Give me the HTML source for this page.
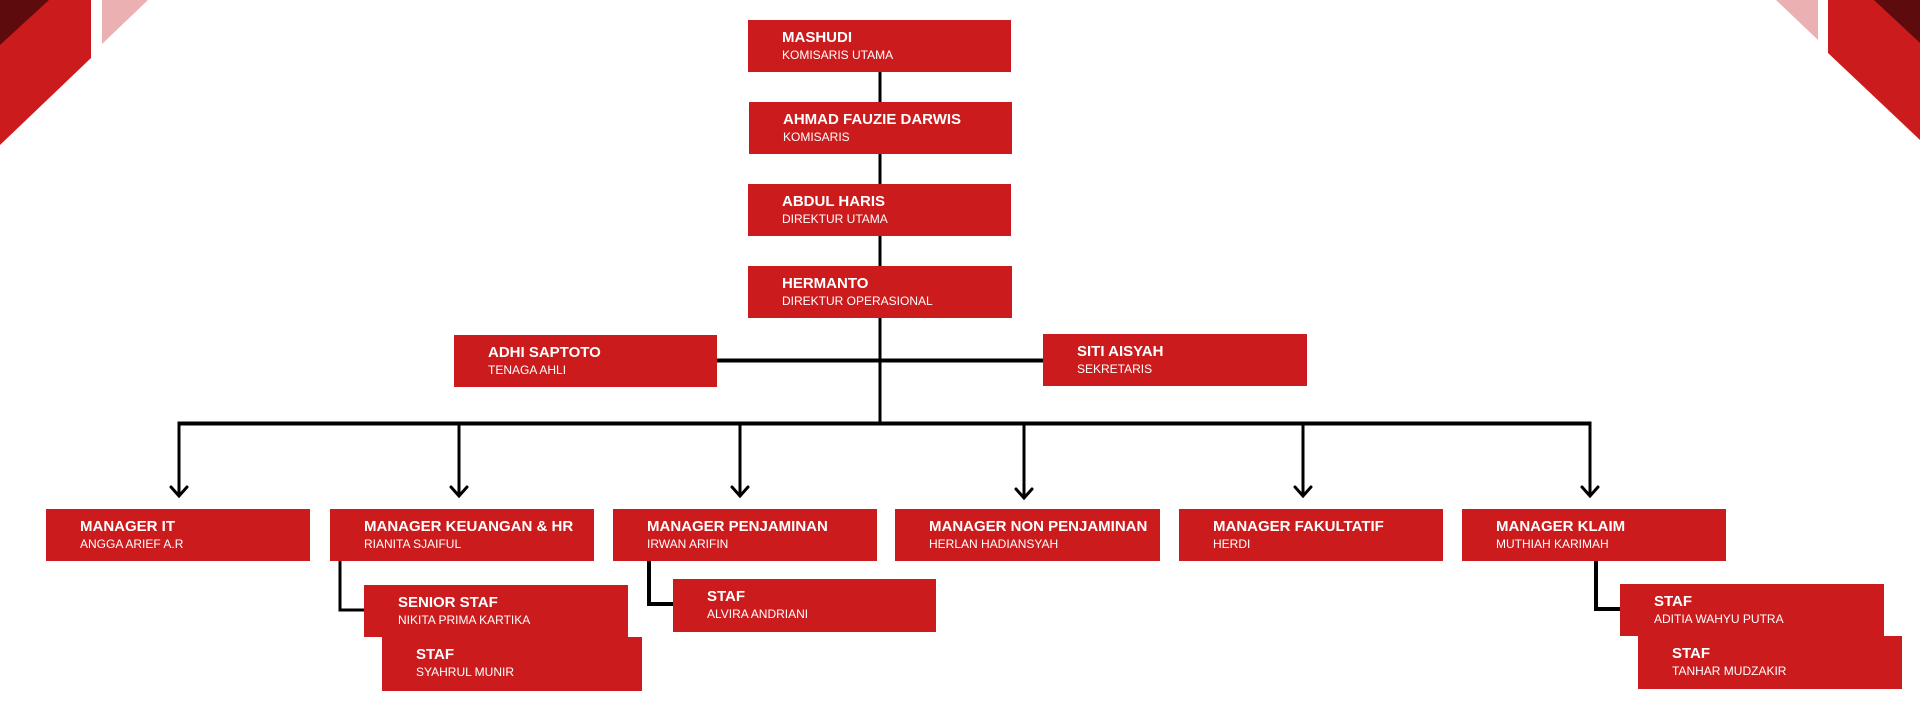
<!DOCTYPE html>
<html><head><meta charset="utf-8"><style>
html,body{margin:0;padding:0;}
body{width:1920px;height:712px;position:relative;overflow:hidden;background:#fff;font-family:"Liberation Sans",Arial,sans-serif;}
.b{position:absolute;background:#cc1b1d;color:#fff;box-sizing:border-box;padding-left:34px;}
.b .n{position:absolute;left:34px;top:10px;font-weight:bold;font-size:15px;line-height:15px;white-space:nowrap;}
.b .s{position:absolute;left:34px;top:29px;font-size:12px;line-height:12px;white-space:nowrap;}
svg{position:absolute;left:0;top:0;}
</style></head><body>
<svg width="1920" height="712">
<polygon points="0,0 91,0 91,58 0,145" fill="#cc1b1d"/>
<polygon points="0,0 49,0 0,45" fill="#5e0b0d"/>
<polygon points="102,0 148,0 102,44" fill="#ebb0b1"/>
<polygon points="1828,0 1920,0 1920,140 1828,53" fill="#cc1b1d"/>
<polygon points="1874,0 1920,0 1920,43" fill="#5e0b0d"/>
<polygon points="1776,0 1818,0 1818,40" fill="#ebb0b1"/>
<g stroke="#000" fill="none" stroke-width="3">
<line x1="880" y1="72" x2="880" y2="424"/>
<line x1="716" y1="360.5" x2="1044" y2="360.5" stroke-width="4"/>
<line x1="177.5" y1="423.5" x2="1591.5" y2="423.5" stroke-width="4"/>
<line x1="179" y1="423" x2="179" y2="495"/>
<line x1="459" y1="423" x2="459" y2="495"/>
<line x1="740" y1="423" x2="740" y2="495"/>
<line x1="1024" y1="423" x2="1024" y2="497"/>
<line x1="1303" y1="423" x2="1303" y2="495"/>
<line x1="1590" y1="423" x2="1590" y2="495"/>
<g stroke-linejoin="miter" stroke-linecap="round">
<polyline points="171,487 179,496 187,487"/>
<polyline points="451,487 459,496 467,487"/>
<polyline points="732,487 740,496 748,487"/>
<polyline points="1016,489 1024,498 1032,489"/>
<polyline points="1295,487 1303,496 1311,487"/>
<polyline points="1582,487 1590,496 1598,487"/>
</g>
<polyline points="340,561 340,610 364,610"/>
<polyline points="649,555 649,604 673,604" stroke-width="4"/>
<polyline points="1596,561 1596,609 1620,609" stroke-width="4"/>
</g>
</svg>
<div class="b" style="left:748px;top:20px;width:263px;height:52px"><div class="n">MASHUDI</div><div class="s">KOMISARIS UTAMA</div></div>
<div class="b" style="left:749px;top:102px;width:263px;height:52px"><div class="n">AHMAD FAUZIE DARWIS</div><div class="s">KOMISARIS</div></div>
<div class="b" style="left:748px;top:184px;width:263px;height:52px"><div class="n">ABDUL HARIS</div><div class="s">DIREKTUR UTAMA</div></div>
<div class="b" style="left:748px;top:266px;width:264px;height:52px"><div class="n">HERMANTO</div><div class="s">DIREKTUR OPERASIONAL</div></div>
<div class="b" style="left:454px;top:335px;width:263px;height:52px"><div class="n">ADHI SAPTOTO</div><div class="s">TENAGA AHLI</div></div>
<div class="b" style="left:1043px;top:334px;width:264px;height:52px"><div class="n">SITI AISYAH</div><div class="s">SEKRETARIS</div></div>
<div class="b" style="left:46px;top:509px;width:264px;height:52px"><div class="n">MANAGER IT</div><div class="s">ANGGA ARIEF A.R</div></div>
<div class="b" style="left:330px;top:509px;width:264px;height:52px"><div class="n">MANAGER KEUANGAN &amp; HR</div><div class="s">RIANITA SJAIFUL</div></div>
<div class="b" style="left:613px;top:509px;width:264px;height:52px"><div class="n">MANAGER PENJAMINAN</div><div class="s">IRWAN ARIFIN</div></div>
<div class="b" style="left:895px;top:509px;width:265px;height:52px"><div class="n">MANAGER NON PENJAMINAN</div><div class="s">HERLAN HADIANSYAH</div></div>
<div class="b" style="left:1179px;top:509px;width:264px;height:52px"><div class="n">MANAGER FAKULTATIF</div><div class="s">HERDI</div></div>
<div class="b" style="left:1462px;top:509px;width:264px;height:52px"><div class="n">MANAGER KLAIM</div><div class="s">MUTHIAH KARIMAH</div></div>
<div class="b" style="left:364px;top:585px;width:264px;height:52px"><div class="n">SENIOR STAF</div><div class="s">NIKITA PRIMA KARTIKA</div></div>
<div class="b" style="left:382px;top:637px;width:260px;height:54px"><div class="n">STAF</div><div class="s">SYAHRUL MUNIR</div></div>
<div class="b" style="left:673px;top:579px;width:263px;height:53px"><div class="n">STAF</div><div class="s">ALVIRA ANDRIANI</div></div>
<div class="b" style="left:1620px;top:584px;width:264px;height:52px"><div class="n">STAF</div><div class="s">ADITIA WAHYU PUTRA</div></div>
<div class="b" style="left:1638px;top:636px;width:264px;height:53px"><div class="n">STAF</div><div class="s">TANHAR MUDZAKIR</div></div>
</body></html>
